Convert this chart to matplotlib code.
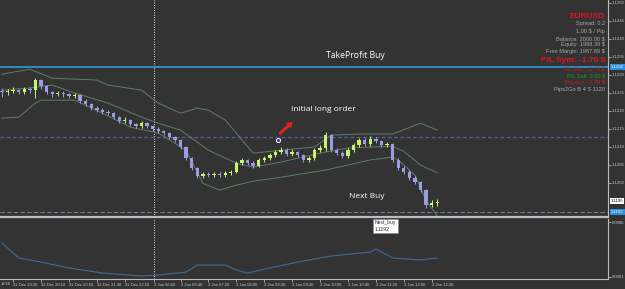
import numpy as np
import matplotlib.pyplot as plt

# ---- candles (EURUSD) ----
opens = [1.12255, 1.12252, 1.12255, 1.12258, 1.12252, 1.12261, 1.12258, 1.12286, 1.12269, 1.12252,
         1.12247, 1.12250, 1.12247, 1.12241, 1.12244, 1.12227, 1.12219, 1.12208, 1.12202, 1.12197,
         1.12194, 1.12183, 1.12172, 1.12175, 1.12164, 1.12158, 1.12166, 1.12158, 1.12150, 1.12144,
         1.12139, 1.12127, 1.12119, 1.12100, 1.12069, 1.12041, 1.12019, 1.12025, 1.12022, 1.12025,
         1.12022, 1.12027, 1.12030, 1.12055, 1.12064, 1.12055, 1.12047, 1.12064, 1.12069, 1.12077,
         1.12086, 1.12091, 1.12080, 1.12086, 1.12077, 1.12064, 1.12069, 1.12091, 1.12097, 1.12133,
         1.12091, 1.12083, 1.12075, 1.12091, 1.12105, 1.12119, 1.12108, 1.12122, 1.12116, 1.12105,
         1.12108, 1.12064, 1.12041, 1.12030, 1.12013, 1.12002, 1.11980, 1.11938, 1.11944]
closes = [1.12252, 1.12255, 1.12258, 1.12252, 1.12261, 1.12258, 1.12286, 1.12269, 1.12252, 1.12247,
          1.12250, 1.12247, 1.12241, 1.12244, 1.12227, 1.12219, 1.12208, 1.12202, 1.12197, 1.12194,
          1.12183, 1.12172, 1.12175, 1.12164, 1.12158, 1.12166, 1.12158, 1.12150, 1.12144, 1.12139,
          1.12127, 1.12119, 1.12100, 1.12069, 1.12041, 1.12019, 1.12025, 1.12022, 1.12025, 1.12022,
          1.12027, 1.12030, 1.12055, 1.12064, 1.12055, 1.12047, 1.12064, 1.12069, 1.12077, 1.12086,
          1.12091, 1.12080, 1.12086, 1.12077, 1.12064, 1.12069, 1.12091, 1.12097, 1.12133, 1.12091,
          1.12083, 1.12075, 1.12091, 1.12105, 1.12119, 1.12108, 1.12122, 1.12116, 1.12105, 1.12108,
          1.12064, 1.12041, 1.12030, 1.12013, 1.12002, 1.11980, 1.11938, 1.11944, 1.11946]
highs = [1.12263, 1.12262, 1.12266, 1.12262, 1.12268, 1.12266, 1.12292, 1.12290, 1.12272, 1.12256,
         1.12256, 1.12255, 1.12250, 1.12250, 1.12247, 1.12232, 1.12222, 1.12213, 1.12208, 1.12203,
         1.12197, 1.12186, 1.12182, 1.12178, 1.12168, 1.12172, 1.12170, 1.12161, 1.12155, 1.12148,
         1.12142, 1.12130, 1.12122, 1.12103, 1.12072, 1.12044, 1.12030, 1.12030, 1.12031, 1.12030,
         1.12033, 1.12036, 1.12060, 1.12070, 1.12068, 1.12060, 1.12069, 1.12075, 1.12083, 1.12092,
         1.12100, 1.12096, 1.12094, 1.12090, 1.12080, 1.12075, 1.12097, 1.12105, 1.12141, 1.12136,
         1.12097, 1.12088, 1.12097, 1.12111, 1.12125, 1.12124, 1.12130, 1.12127, 1.12120, 1.12114,
         1.12111, 1.12069, 1.12047, 1.12036, 1.12019, 1.12005, 1.11983, 1.11952, 1.11955]
lows = [1.12240, 1.12245, 1.12250, 1.12246, 1.12248, 1.12250, 1.12235, 1.12262, 1.12246, 1.12240,
        1.12242, 1.12240, 1.12236, 1.12236, 1.12222, 1.12214, 1.12203, 1.12197, 1.12192, 1.12188,
        1.12178, 1.12166, 1.12168, 1.12158, 1.12152, 1.12153, 1.12153, 1.12144, 1.12139, 1.12133,
        1.12122, 1.12113, 1.12094, 1.12063, 1.12036, 1.12013, 1.12014, 1.12016, 1.12017, 1.12016,
        1.12018, 1.12022, 1.12027, 1.12050, 1.12050, 1.12041, 1.12044, 1.12058, 1.12063, 1.12072,
        1.12080, 1.12075, 1.12074, 1.12071, 1.12058, 1.12058, 1.12064, 1.12086, 1.12090, 1.12086,
        1.12077, 1.12069, 1.12070, 1.12086, 1.12100, 1.12102, 1.12103, 1.12110, 1.12100, 1.12100,
        1.12058, 1.12036, 1.12025, 1.12008, 1.11997, 1.11974, 1.11930, 1.11933, 1.11936]

# ---- bollinger bands (bar index, price) ----
upper_bar = [0, 2, 5, 9, 17, 19, 25, 28, 32, 35, 37, 40, 45, 50, 56, 59, 64, 70, 75, 78]
upper_val = [1.12302, 1.12308, 1.12316, 1.12291, 1.12286, 1.12272, 1.12258, 1.12222, 1.12194, 1.12208,
             1.12202, 1.12175, 1.12083, 1.12091, 1.12100, 1.12133, 1.12136, 1.12136, 1.12166, 1.12147]
mid_bar = [0, 5, 9, 13, 19, 25, 28, 32, 37, 42, 45, 50, 53, 58, 62, 70, 72, 75, 78]
mid_val = [1.12258, 1.12264, 1.12272, 1.12250, 1.12222, 1.12183, 1.12166, 1.12147, 1.12091, 1.12055,
           1.12044, 1.12058, 1.12069, 1.12086, 1.12097, 1.12102, 1.12088, 1.12050, 1.12028]
lower_bar = [0, 3, 6, 7, 13, 18, 23, 28, 33, 36, 39, 42, 45, 50, 58, 66, 70, 71, 74, 76, 78]
lower_val = [1.12180, 1.12183, 1.12222, 1.12230, 1.12230, 1.12194, 1.12155, 1.12139, 1.12091, 1.11999,
             1.11980, 1.11994, 1.12005, 1.12016, 1.12036, 1.12064, 1.12072, 1.12064, 1.12022, 1.11952,
             1.11908]

# ---- lower indicator ----
ind_bar = [0, 3, 7, 12, 18, 25, 28, 33, 35, 40, 42, 44, 48, 53, 59, 66, 67, 70, 75, 78]
ind_val = [0.000409, 0.000273, 0.000236, 0.000182, 0.000136, 0.000109, 0.000118, 0.000145, 0.000209,
           0.000209, 0.000164, 0.000136, 0.000182, 0.000236, 0.000291, 0.000327, 0.000355, 0.000273,
           0.000255, 0.000273]

# ---- levels / labels ----
tp_price = 1.12322
initial_price = 1.12128
next_buy = 1.1192
bid_price = 1.1195
order_bar, order_price = 49.5, 1.12120
separator_bar = 27.3

price_ticks = [1.1250, 1.1245, 1.1240, 1.1235, 1.1230, 1.1225, 1.1220, 1.1215, 1.1210, 1.1205, 1.1200]
time_bars = [2, 7, 12, 17, 22, 27.3, 32, 37, 42, 47, 52, 57, 62, 67, 72, 77]
time_labels = ['31 Dec 19:30', '31 Dec 20:10', '31 Dec 20:50', '31 Dec 21:30',
               '31 Dec 22:10', '2 Jan 06:00', '2 Jan 06:40', '2 Jan 07:20', '2 Jan 08:00',
               '2 Jan 08:40', '2 Jan 09:20', '2 Jan 10:00', '2 Jan 10:40', '2 Jan 11:20',
               '2 Jan 12:00', '2 Jan 12:40']
first_label = '18:50'

info_lines = ['EURUSD', 'Spread: 0.2', '1.00 $ / Pip', 'Balance: 2000.00 $', 'Equity: 1998.30 $',
              'Free Margin: 1987.89 $', 'P/L Sym: -1.70 $', 'P/L Buy: -1.70 $', 'P/L Sell: 0.00 $',
              'P/L Acc: -1.70 $', 'Pips2Go B 4 S 1120']
info_colors = ['#e0141e', '#a8a8a8', '#a8a8a8', '#a8a8a8', '#a8a8a8', '#a8a8a8', '#e0141e',
               '#c8141e', '#1e9e1e', '#e0141e', '#a8a8a8']
info_sizes = [6.0, 4.1, 4.1, 4.1, 4.1, 4.1, 6.0, 4.1, 4.1, 4.1, 4.1]
info_y = [16, 24, 31, 39, 45, 52, 61, 70, 76, 82, 89]

bg = '#333333'
fg = '#c8c8c8'
bull = '#c6f570'
bear = '#9c9ce6'
band = '#5e7e62'

W, H = 625, 289
fig = plt.figure(figsize=(W / 100, H / 100), dpi=100)
fig.patch.set_facecolor(bg)
plt.rcParams['font.family'] = ['Open Sans', 'DejaVu Sans']


def px_axes(x0, y0, x1, y1):
    return fig.add_axes([x0 / W, 1 - y1 / H, (x1 - x0) / W, (y1 - y0) / H])


ax = px_axes(0, 0, 608, 217)
ax2 = px_axes(0, 219, 608, 279)
spacing = 5.58
xl = (-2 / spacing, (608 - 2) / spacing)
for a in (ax, ax2):
    a.set_facecolor(bg)
    for s in ('top', 'left'):
        a.spines[s].set_visible(False)
    a.spines['right'].set_color('#bdbdbd')
    a.spines['bottom'].set_color('#bdbdbd')
    a.yaxis.tick_right()
    a.tick_params(axis='y', colors=fg, labelsize=3.1, length=2, width=0.5, pad=0.8)
ax.spines['bottom'].set_linewidth(1.6)
ax.set_ylim(1.1250 - 214 / 36000, 1.1250 + 3 / 36000)
ax.set_xticks([])
ax.set_yticks(price_ticks)
ax.set_yticklabels([f'{p:.4f}' for p in price_ticks], family='Liberation Sans')

x = np.arange(len(closes))
o = np.array(opens)
c = np.array(closes)
cols = [bull if cc >= oo else bear for oo, cc in zip(o, c)]
ax.vlines(x, lows, highs, colors=cols, lw=0.7, zorder=3)
ax.bar(x, np.where(c - o == 0, 0.00001, c - o), bottom=o, width=0.6, color=cols, zorder=4, lw=0)

ax.plot(upper_bar, upper_val, color=band, lw=0.7, zorder=2)
ax.plot(mid_bar, mid_val, color=band, lw=0.7, zorder=2)
ax.plot(lower_bar, lower_val, color=band, lw=0.7, zorder=2)

ax.axhline(tp_price, color='#2f9ad8', lw=1.2, zorder=5)
ax.axhline(initial_price, color='#5c5ca6', lw=0.9, ls=(0, (3, 2)), zorder=1)
ax.axhline(next_buy, color='#6f7f9c', lw=0.8, ls=(0, (4, 2)), zorder=1)
for a in (ax, ax2):
    a.axvline(separator_bar, color='#e6e6e6', lw=0.7, ls=(0, (1, 1.5)), zorder=1)

ax.text(58.1, 1.12355, 'TakeProfit Buy', color='white', fontsize=6.2, ha='left', va='center')
ax.text(51.8, 1.12205, 'Initial long order', color='white', fontsize=6.0, ha='left', va='center')
ax.text(62.2, 1.11962, 'Next Buy', color='white', fontsize=6.0, ha='left', va='center')
ax.annotate('', xy=(52.1, 1.12170), xytext=(49.7, 1.12136),
            arrowprops=dict(arrowstyle='simple,head_width=0.9,head_length=0.7,tail_width=0.35',
                            color='#e82020', lw=0, shrinkA=0, shrinkB=0, mutation_scale=6))
ax.plot([order_bar], [order_price], 'o', ms=3, mfc='#3040a0', mec='white', mew=0.7, zorder=6)

# price labels on the axis
tr = ax.get_yaxis_transform()
for val, txt, fc, tc in [(tp_price, '1.1232', '#2f8fe0', 'white'), (bid_price, '1.1195', 'white', 'black'),
                         (next_buy, '1.1192', '#2f8fe0', 'white')]:
    ax.text(1.005, val, txt, transform=tr, fontsize=3.1, color=tc, va='center', ha='left',
            family='Liberation Sans', bbox=dict(boxstyle='square,pad=0.2', fc=fc, ec='none'), clip_on=False)

for txt, col, sz, yy in zip(info_lines, info_colors, info_sizes, info_y):
    fig.text(605 / W, 1 - yy / H, txt, color=col, fontsize=sz, ha='right', va='center',
             family='Liberation Sans', fontweight='bold' if sz > 5 else 'normal')

# lower panel
ax2.plot(ind_bar, ind_val, color='#3d6c9a', lw=0.8)
ax2.set_ylim(0.0006 - 57 / 110000, 0.0006 + 3 / 110000)
ax2.set_yticks([0.0006, 0.0001])
ax2.set_yticklabels(['0.0006', '0.0001'], family='Liberation Sans')
ax2.set_xticks(time_bars)
ax2.set_xticklabels(time_labels, family='Liberation Sans')
ax2.tick_params(axis='x', colors=fg, labelsize=3.0, length=2, width=0.5, pad=1)
for lab in ax2.get_xticklabels():
    lab.set_ha('left')
for a in (ax, ax2):
    a.set_xlim(*xl)
fig.text(0.5 / W, 1 - 282 / H, first_label, fontsize=3.0, color=fg, ha='left', va='top',
         family='Liberation Sans')

fig.text(375 / W, 1 - 226 / H, 'Next_buy\n1.1192', fontsize=3.6, color='#303030', va='center',
         ha='left', linespacing=1.3, family='Liberation Sans',
         bbox=dict(boxstyle='square,pad=0.35', fc='white', ec='#888888', lw=0.4))

fig.savefig('out.png', dpi=100, facecolor=bg)
